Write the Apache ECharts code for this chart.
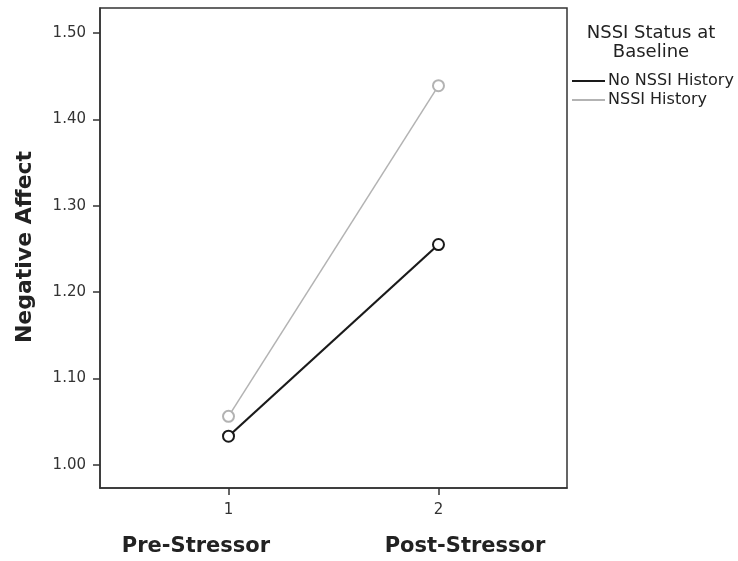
<!DOCTYPE html>
<html>
<head>
<meta charset="utf-8">
<script src="https://cdn.jsdelivr.net/npm/echarts@6/dist/echarts.min.js"></script>
<style>html,body{margin:0;padding:0;background:#fff}#c{width:738px;height:561px}</style>
</head>
<body>
<div id="c"></div>
<script>
const timePoints = [1, 2];
const timeNames = ['Pre-Stressor', 'Post-Stressor'];
const noNssi = [1.033, 1.255];
const nssi = [1.056, 1.439];
const yTicks = [1.0, 1.1, 1.2, 1.3, 1.4, 1.5];
const seriesNames = ['No NSSI History', 'NSSI History'];
const legendTitle = 'NSSI Status at\nBaseline';
const yTitle = 'Negative Affect';

const FONT = 'DejaVu Sans';
const chart = echarts.init(document.getElementById('c'));
chart.setOption({
  animation: false,
  textStyle: { fontFamily: FONT },
  grid: { left: 100, right: 171, top: 8, bottom: 73, show: true, borderColor: '#333', borderWidth: 1.5, backgroundColor: '#fff' },
  xAxis: {
    type: 'value', min: 0.388, max: 2.612,
    splitLine: { show: false },
    axisLine: { lineStyle: { color: '#333', width: 1.5 } },
    axisTick: { customValues: timePoints, length: 7, lineStyle: { color: '#333', width: 1.5 } },
    axisLabel: { customValues: timePoints, margin: 15, color: '#333', fontSize: 15, fontFamily: FONT, formatter: v => String(v) }
  },
  yAxis: {
    type: 'value', min: 0.973, max: 1.529,
    splitLine: { show: false },
    axisLine: { lineStyle: { color: '#333', width: 1.5 } },
    axisTick: { customValues: yTicks, length: 7, lineStyle: { color: '#333', width: 1.5 } },
    axisLabel: { customValues: yTicks, margin: 14, color: '#333', fontSize: 15, fontFamily: FONT, formatter: v => v.toFixed(2) }
  },
  legend: {
    orient: 'vertical', left: 572, top: 73, padding: 0, itemWidth: 33, itemHeight: 2, itemGap: 3,
    icon: 'rect',
    textStyle: { fontSize: 16, color: '#222', fontFamily: FONT, lineHeight: 16, padding: [0, 0, 0, -2] },
    data: seriesNames
  },
  graphic: [
    { type: 'text', x: 651, y: 24, style: { text: legendTitle, font: '18px "DejaVu Sans"', fill: '#222', align: 'center', verticalAlign: 'top', lineHeight: 19 } },
    { type: 'text', x: 25, y: 247, rotation: Math.PI / 2, style: { text: yTitle, font: 'bold 22px "DejaVu Sans"', fill: '#222', align: 'center', verticalAlign: 'middle' } },
    { type: 'text', x: 196, y: 547, style: { text: timeNames[0], font: 'bold 21px "DejaVu Sans"', fill: '#222', align: 'center', verticalAlign: 'middle' } },
    { type: 'text', x: 465, y: 547, style: { text: timeNames[1], font: 'bold 21px "DejaVu Sans"', fill: '#222', align: 'center', verticalAlign: 'middle' } }
  ],
  series: [
    {
      name: seriesNames[1], type: 'line', z: 2,
      data: timePoints.map((t, i) => [t, nssi[i]]),
      symbol: 'emptyCircle', symbolSize: 11,
      lineStyle: { color: '#b3b3b3', width: 1.5 },
      itemStyle: { color: '#b3b3b3', borderWidth: 1.5 }
    },
    {
      name: seriesNames[0], type: 'line', z: 3,
      data: timePoints.map((t, i) => [t, noNssi[i]]),
      symbol: 'emptyCircle', symbolSize: 11,
      lineStyle: { color: '#1a1a1a', width: 2.2 },
      itemStyle: { color: '#1a1a1a', borderWidth: 1.8 }
    }
  ]
});
</script>
</body>
</html>
